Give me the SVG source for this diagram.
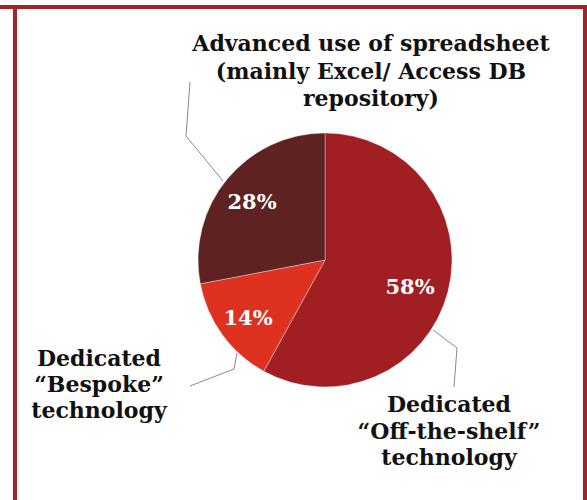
<svg xmlns="http://www.w3.org/2000/svg" width="587" height="500" viewBox="0 0 587 500">
  <style>
    .frame { stroke: #a52327; stroke-width: 4; fill: none; }
    .label { font-family: "DejaVu Serif", "Liberation Serif", serif; font-weight: bold; font-size: 22px; fill: #111; text-anchor: middle; }
    .pct { font-family: "DejaVu Serif", "Liberation Serif", serif; font-weight: bold; font-size: 21px; fill: #ffffff; text-anchor: middle; }
    .leader { stroke: #8a8a8a; stroke-width: 1; fill: none; }
    .slice { stroke: #ffffff; stroke-width: 0.6; stroke-opacity: 0.6; }
  </style>
  <rect width="587" height="500" fill="#ffffff"/>

  <!-- outer frame -->
  <g id="frame">
    <line class="frame" x1="0" y1="7" x2="587" y2="7"/>
    <line class="frame" x1="15" y1="5" x2="15" y2="500"/>
    <line class="frame" x1="585" y1="5" x2="585" y2="500"/>
  </g>

  <!-- pie, centre (325,260), radius 127 -->
  <g id="slice-offshelf">
    <path class="slice" fill="#a11f22" d="M325,260 L325,133 A127,127 0 1 1 263.8,371.3 Z"/>
  </g>
  <g id="slice-bespoke">
    <path class="slice" fill="#df3120" d="M325,260 L263.8,371.3 A127,127 0 0 1 200.3,283.8 Z"/>
  </g>
  <g id="slice-spreadsheet">
    <path class="slice" fill="#5e2222" d="M325,260 L200.3,283.8 A127,127 0 0 1 325,133 Z"/>
  </g>

  <!-- leader lines -->
  <g id="connectors">
    <polyline class="leader" points="223,181 186,136 190,82"/>
    <polyline class="leader" points="237,353 234,369 190,386"/>
    <polyline class="leader" points="433,330 457,348 454,387"/>
  </g>

  <!-- percentages -->
  <g id="values">
    <text class="pct" x="252" y="209">28%</text>
    <text class="pct" x="410" y="294">58%</text>
    <text class="pct" x="248" y="325">14%</text>
  </g>

  <g id="label-spreadsheet">
    <text class="label" x="371" y="51">Advanced use of spreadsheet</text>
    <text class="label" x="371" y="79">(mainly Excel/ Access DB</text>
    <text class="label" x="371" y="106">repository)</text>
  </g>
  <g id="label-bespoke">
    <text class="label" x="99" y="366">Dedicated</text>
    <text class="label" x="99" y="392">“Bespoke”</text>
    <text class="label" x="99" y="418">technology</text>
  </g>
  <g id="label-offshelf">
    <text class="label" x="449" y="412">Dedicated</text>
    <text class="label" x="449" y="439">“Off-the-shelf”</text>
    <text class="label" x="449" y="465">technology</text>
  </g>
</svg>
